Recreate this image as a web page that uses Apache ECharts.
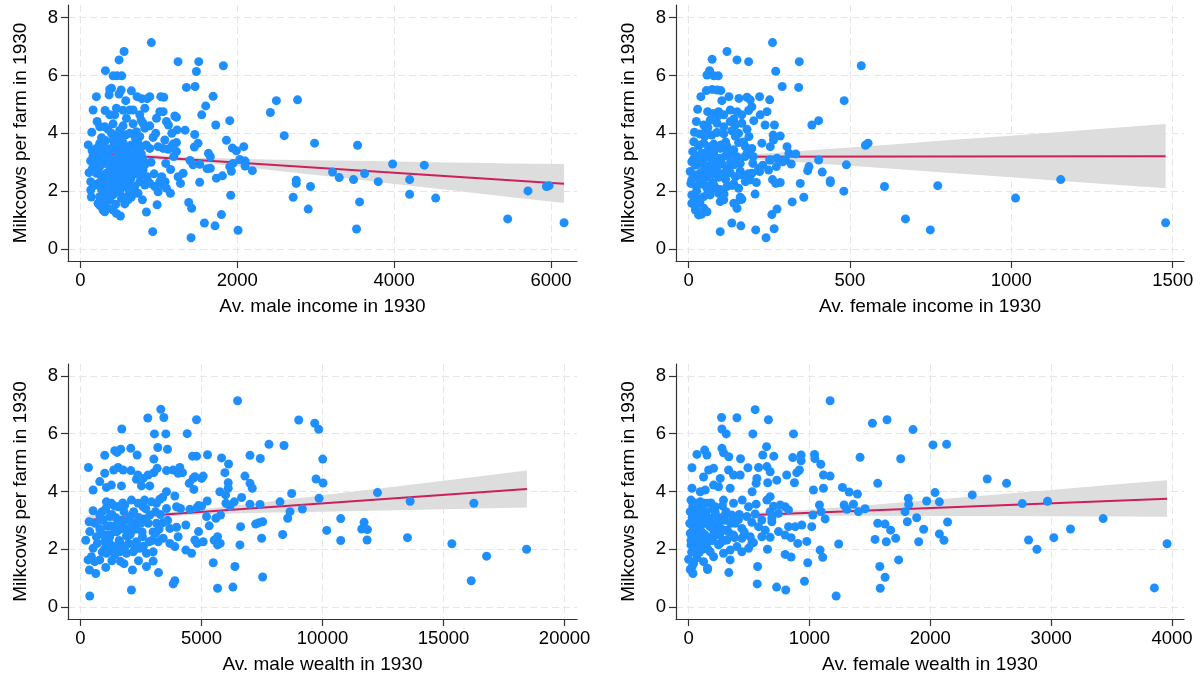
<!DOCTYPE html>
<html>
<head>
<meta charset="utf-8">
<script src="https://cdn.jsdelivr.net/npm/echarts@6/dist/echarts.min.js"></script>
<style>
html,body{margin:0;padding:0;background:#fff;}
#chart{width:1201px;height:681px;}
</style>
</head>
<body>
<div id="chart"></div>
<script>
// ---------------- DATA ----------------
const yTicks = [0, 2, 4, 6, 8];
const yTitle = 'Milkcows per farm in 1930';

const maleIncomeTicks = [0, 2000, 4000, 6000];
const femaleIncomeTicks = [0, 500, 1000, 1500];
const maleWealthTicks = [0, 5000, 10000, 15000, 20000];
const femaleWealthTicks = [0, 1000, 2000, 3000, 4000];

const xTitles = ['Av. male income in 1930', 'Av. female income in 1930', 'Av. male wealth in 1930', 'Av. female wealth in 1930'];

// scatter points [x, milkcows]
const maleIncome = [
[905,7.14],[557,6.83],[493,6.54],[319,6.17],[417,5.99],[468,5.99],[527,5.99],[1245,6.48],[1509,6.48],[1479,6.14],[1823,6.34],[1352,5.59],[1462,5.62],[1692,5.28],[1598,4.95],[1547,4.64],[1726,4.29],[1904,4.44],[1335,4.11],[1458,3.96],[1862,3.76],[1500,3.66],[1453,3.53],[1938,3.49],[1989,3.40],[2083,3.54],[1632,3.31],[1657,3.19],[1398,3.06],[1436,2.91],[1521,2.93],[1615,2.78],[1657,2.79],[1946,2.96],[2032,3.10],[2100,3.04],[2100,2.87],[1904,2.85],[1925,2.69],[2193,2.71],[1734,2.45],[1811,2.53],[1521,2.31],[1917,1.86],[1381,1.61],[1419,1.41],[1798,1.19],[1581,0.90],[1717,0.80],[2010,0.65],[1411,0.39],[922,0.60],[842,1.28],[978,1.53],[510,1.14],
[2422,4.72],[2499,5.13],[2769,5.16],[2599,3.92],[2986,3.66],[3534,3.59],[2713,1.79],[2752,2.38],[2752,2.27],[2934,2.16],[2905,1.38],[3215,2.66],[3300,2.47],[3483,2.40],[3624,2.61],[3560,1.63],[3521,0.69],[3798,2.33],[3981,2.94],[4198,2.40],[4198,1.89],[4385,2.90],[4530,1.76],[5448,1.04],[5707,2.01],[5942,2.16],[5976,2.19],[6167,0.91],
[204,5.27],[374,5.52],[396,5.56],[366,5.33],[519,5.50],[493,5.36],[650,5.47],[723,5.27],[783,5.20],[851,5.20],[885,5.27],[1025,5.27],[1063,5.25],[578,5.13],[162,4.81],[315,4.79],[459,4.87],[544,4.80],[629,4.81],[672,4.81],[821,4.87],[374,4.64],[438,4.64],[587,4.52],[757,4.64],[774,4.46],[970,4.52],[1012,4.75],[1055,4.75],[1204,4.60],[1225,4.56],[1097,4.41],[1123,4.29],[213,4.41],[247,4.23],[145,4.04],[310,4.23],[417,4.33],[544,4.26],[672,4.33],[799,4.35],[885,4.26],[629,4.00],[714,4.06],[821,4.18],[757,3.89],[927,3.86],[1165,4.00],[1233,4.12],[1076,3.77],[1225,3.68],[1182,3.63],[396,4.00],[451,3.91],[417,3.77],[247,3.66],[281,3.54],[332,3.48],[204,3.48],[459,3.66],[544,3.68],[587,3.54],[650,3.60],[735,3.66],[778,3.54],[885,3.48],[991,3.54],[1055,3.48],[1118,3.45],[1161,3.54],[1225,3.37],[162,3.22],[225,3.14],[289,3.29],[353,3.19],[417,3.08],[480,3.19],[544,3.29],[608,3.14],[693,3.22],[778,3.29],[183,2.96],[247,2.85],[310,2.96],[374,2.85],[438,2.91],[502,2.79],[565,2.96],[629,2.85],[693,2.91],[757,2.85],[821,2.91],[1088,2.96],[110,2.64],[153,2.79],[204,2.62],[268,2.50],[332,2.62],[396,2.50],[459,2.62],[523,2.50],[587,2.62],[650,2.50],[714,2.60],[799,2.73],[851,2.50],[1037,2.50],[1080,2.33],[1055,2.21],[1246,2.50],[1310,2.62],[1276,2.27],[132,2.33],[132,2.04],[225,2.27],[289,2.16],[353,2.27],[417,2.16],[480,2.27],[544,2.16],[608,2.27],[693,2.16],[757,2.33],[821,2.21],[885,2.27],[948,2.16],[991,1.98],[1012,2.33],[1097,2.10],[1148,1.93],[247,1.81],[332,1.93],[417,1.87],[502,1.98],[587,1.81],[672,1.98],[735,1.93],[791,1.70],[225,1.58],[310,1.64],[374,1.70],[523,1.75],[608,1.70],[565,1.56],[289,1.35],[353,1.41],[417,1.35],[459,1.23],[310,1.29],
[100,3.60],[130,3.05],[270,3.85],[350,4.15],[500,4.10],[580,3.95],[350,3.38],[450,3.40],[520,3.45],[700,3.45],[270,3.00],[400,2.70],[560,2.70],[300,2.40],[480,2.40],[640,2.40],[380,2.00],[440,1.95],[270,2.05],
[150,3.40],[190,3.10],[230,2.75],[260,3.35],[290,2.30],[320,3.75],[340,2.00],[360,3.05],[390,2.35],[420,3.55],[440,2.55],[470,3.00],[490,3.85],[510,2.20],[540,3.05],[570,2.35],[600,3.35],[620,2.05],[660,3.00],[680,2.70],[700,3.85],[740,3.10],[760,2.55],[800,3.10],[840,3.60],[860,2.35],[900,3.00],[940,2.60],[960,4.00],[1150,2.75],[1190,3.20],[140,1.80],[180,2.20],[250,1.50],[450,1.55],[650,1.80]
];

const femaleIncome = [
[260,7.14],[119,6.83],[73,6.56],[150,6.54],[186,6.48],[343,6.48],[270,6.15],[57,6.02],[65,6.17],[78,5.99],[92,5.99],[290,5.62],[341,5.59],[535,6.34],[482,5.13],[220,5.27],[251,5.16],[38,5.27],[55,5.48],[73,5.52],[88,5.50],[100,5.48],[125,5.27],[156,5.21],[181,5.25],[191,5.16],[103,5.13],[28,4.83],[196,4.92],[186,4.79],[243,4.75],
[59,4.75],[78,4.69],[93,4.75],[109,4.64],[129,4.81],[150,4.75],[165,4.64],[222,4.64],[24,4.41],[47,4.29],[67,4.46],[88,4.35],[109,4.23],[129,4.41],[145,4.29],[165,4.35],[202,4.44],[237,4.29],[266,4.29],[382,4.29],[403,4.44],
[18,4.04],[34,3.98],[52,4.06],[72,3.94],[88,4.03],[109,3.98],[134,4.09],[155,4.00],[181,4.14],[187,3.89],[262,3.94],[284,3.91],[263,3.77],[227,3.66],[253,3.54],[305,3.54],[548,3.59],[556,3.66],
[16,3.71],[31,3.56],[47,3.66],[62,3.54],[78,3.63],[98,3.48],[119,3.56],[140,3.43],[155,3.68],[176,3.54],[196,3.48],[311,3.31],[332,3.29],[300,3.08],
[13,3.37],[26,3.22],[41,3.31],[57,3.19],[78,3.29],[98,3.14],[114,3.22],[134,3.33],[150,3.19],[181,3.31],[253,3.08],[274,3.14],[292,3.02],[318,2.94],[403,3.08],[489,2.91],
[10,3.02],[26,2.91],[41,2.99],[57,2.85],[72,2.96],[88,2.85],[103,2.94],[119,2.79],[140,2.91],[160,2.96],[199,2.96],[220,2.68],[251,3.08],[272,2.85],[369,2.71],[373,2.85],[414,2.66],[439,2.36],[439,2.30],
[5,2.68],[21,2.56],[36,2.62],[57,2.50],[72,2.60],[93,2.48],[109,2.56],[129,2.64],[145,2.50],[165,2.56],[181,2.45],[196,2.62],[217,2.79],[248,2.73],[481,2.00],
[270,2.27],[284,2.30],[346,2.27],[357,1.79],[321,1.63],
[7,2.27],[24,2.16],[41,2.25],[57,2.10],[78,2.21],[98,2.06],[119,2.16],[140,2.25],[155,2.10],[176,2.33],[191,2.39],[206,1.90],
[10,1.87],[26,1.75],[47,1.81],[67,1.87],[93,1.93],[109,1.70],[140,1.58],[160,1.79],[165,1.72],
[10,1.58],[21,1.35],[31,1.18],[47,1.41],[57,1.29],[98,1.64],[150,1.41],[160,1.70],[258,1.19],[274,1.38],
[98,0.60],[134,0.90],[162,0.80],[208,0.66],[240,0.39],[265,0.70],
[607,2.16],[772,2.19],[672,1.04],[749,0.66],[1013,1.76],[1153,2.40],[1478,0.91],
[30,3.0],[45,2.7],[60,3.4],[75,2.3],[90,3.1],[105,2.6],[120,3.4],[35,2.4],[50,3.9],[65,2.0],[20,2.9],[40,3.2],[55,2.2],[85,2.8],[100,3.6],[115,2.4],[130,3.0],[145,3.9],[160,2.7],[175,3.2],
[10,2.4],[15,3.1],[25,2.0],[30,3.6],[35,1.6],[45,3.0],[50,2.5],[60,1.9],[65,3.2],[70,2.7],[80,3.5],[85,2.1],[95,2.6],[100,3.0],[110,1.9],[115,3.7],[125,2.7],[135,2.2],[150,3.0],[170,3.7],[185,2.6],[200,3.2],[210,2.3],[230,2.9],[260,2.4],[20,1.5],[40,1.2],[140,4.5],[90,4.6],[60,4.2]
];

const maleWealth = [
[6493,7.14],[3322,6.84],[3446,6.56],[2783,6.54],[4796,6.48],[1708,6.16],[3059,5.99],[3528,5.99],[4410,6.00],[3197,5.52],[3597,5.46],[2080,5.49],[1666,5.46],[1515,5.35],[1418,5.41],[2342,5.26],[1005,5.25],[3032,5.12],[4631,5.22],[4796,5.22],[5251,5.27],[5830,5.16],[6120,4.95],[5968,4.65],[6106,4.30],[7004,5.25],[7431,5.14],[7789,5.63],[8410,5.59],[9017,6.47],[9679,6.36],[9844,6.15],[10010,5.12],[9734,4.43],[10023,4.29],[9858,3.76],
[330,4.83],[523,4.05],[1005,4.63],[1377,4.74],[1556,4.83],[1763,4.74],[2080,4.72],[2370,4.57],[2591,4.45],[2797,4.57],[3032,4.65],[3170,4.80],[3556,4.72],[3832,4.74],[4038,4.63],[4107,4.83],[4217,4.65],[4493,4.28],[4658,4.45],[4727,4.51],[5003,4.45],[5072,4.53],[4686,4.07],
[798,4.34],[1074,4.14],[1280,4.22],[1694,4.19],[2314,4.42],[2522,4.19],[2866,4.19],[3556,3.99],[3901,3.84],[3280,3.73],[5238,3.67],[4880,3.51],[5761,3.99],[6106,4.11],[5996,3.88],[6355,3.64],[6658,3.79],[6796,4.53],[7004,4.28],[7100,4.11],
[7004,3.56],[7418,3.55],[8245,3.64],[8727,3.93],[8658,3.30],[9168,3.39],[8562,3.07],
[523,3.33],[358,2.95],[798,3.18],[1074,3.64],[1280,3.59],[1556,3.47],[1832,3.53],[2108,3.70],[2384,3.59],[2591,3.47],[2935,3.64],[3142,3.59],
[3556,3.41],[3970,3.47],[4135,3.41],[4521,3.38],[4824,3.45],[5003,3.49],[5210,3.13],[5596,3.07],[5789,3.18],[6010,3.59],[6175,3.49],
[6617,2.78],[7237,2.87],[7375,2.92],[7527,2.95],[7486,2.38],[8355,2.51],
[936,3.01],[1212,3.13],[1487,2.84],[1763,2.95],[2039,3.13],[2315,2.90],[2660,3.01],[2866,3.18],[3142,2.90],[3418,2.92],[3694,2.72],
[3970,2.76],[4038,2.43],[4355,2.84],[4880,2.61],[5321,2.81],[5527,2.31],[5665,2.43],[6589,2.15],
[220,2.31],[385,2.61],[523,2.03],[661,2.43],[867,2.55],[1005,2.26],[1212,2.43],[1418,2.61],[1625,2.26],[1901,2.46],[2108,2.61],[2315,2.26],[2563,2.43],[2839,2.26],[3115,2.55],[3211,2.26],[3418,2.38],[3694,2.20],
[3901,2.09],[4355,1.97],[4590,1.86],[4727,2.32],[4824,2.20],[5072,2.26],[5665,2.15],[5776,2.20],
[316,1.63],[454,1.74],[592,1.57],[798,1.63],[1074,1.86],[1212,1.97],[1418,1.80],[1625,1.91],[1901,1.86],[2177,1.91],[2453,2.03],[2729,1.86],[3004,1.91],
[372,1.28],[634,1.16],[1047,1.37],[1652,1.58],[2149,1.28],[2729,1.40],[3225,1.19],[3004,1.59],
[385,0.38],[2108,0.59],[3901,0.91],[3832,0.80],
[5486,1.53],[6382,1.40],[5665,0.65],[6299,0.69],[7527,1.04],
[12270,3.96],[13621,3.66],[16254,3.59],[10753,3.06],[10174,2.65],[11718,2.93],[11622,2.70],[11856,2.68],[11842,2.32],[10753,2.30],[13510,2.40],[15344,2.19],[16778,1.76],[18431,2.00],[16143,0.91],
[1100,2.8],[1300,3.2],[1500,2.6],[1700,3.0],[1900,2.7],[2200,3.3],[2500,2.9],[2700,3.4],[1200,2.2],[1400,3.5],[1600,2.3],[1800,3.3],[2000,2.2],[2300,2.7],[800,2.7],[900,3.3],[1000,2.0],[2600,2.1],[3000,2.6],[3300,3.2],
[600,2.9],[700,2.2],[850,3.0],[950,2.5],[1050,3.4],[1150,2.5],[1250,2.8],[1350,2.1],[1450,3.1],[1550,2.0],[1650,2.7],[1750,3.6],[1850,2.1],[1950,3.0],[2050,2.5],[2150,2.9],[2250,2.0],[2400,3.1],[2550,2.6],[2650,3.7],[2800,2.9],[2950,2.3],[3100,3.3],[3250,2.7],[3400,3.8],[1300,1.6],[1800,1.5],[900,1.9],[2400,1.6],[3600,3.0]
];

const femaleWealth = [
[1171,7.14],[551,6.83],[273,6.56],[400,6.55],[661,6.48],[276,6.16],[312,5.99],[532,5.99],[868,5.99],[1521,6.36],[1642,6.48],[1857,6.14],[2022,5.61],[2135,5.63],
[69,5.28],[133,5.43],[152,5.26],[276,5.49],[289,5.34],[333,5.20],[430,5.13],[645,5.55],[614,5.26],[705,5.22],[862,5.17],[931,5.26],[931,5.06],[1042,5.28],[1045,5.14],[1094,4.94],[1116,4.57],[1171,4.53],[1419,5.18],[1755,5.13],
[28,4.82],[124,4.50],[166,4.74],[207,4.80],[262,4.45],[331,4.74],[372,4.57],[427,4.57],[491,4.82],[565,4.45],[579,4.83],[648,4.86],[675,4.68],[730,4.39],[812,4.57],[895,4.65],[917,4.74],
[1565,4.28],[1273,4.14],[1328,3.98],[1397,3.91],
[28,4.11],[97,3.99],[138,4.05],[207,4.22],[248,4.16],[344,4.11],[526,3.99],[559,4.28],[655,4.30],[876,4.30],[1033,4.05],[1116,4.11],
[1970,3.67],[2039,3.96],[2075,3.64],[1818,3.76],[1821,3.55],
[20,3.70],[97,3.64],[152,3.59],[220,3.47],[289,3.70],[372,3.59],[444,3.70],[496,3.47],[559,3.56],[648,3.70],[675,3.82],[703,3.49],[758,3.53],[799,3.47],[827,3.36],
[1028,3.18],[1083,3.53],[1097,3.30],[1130,3.05],[1287,3.53],[1309,3.38],[1364,3.56],[1405,3.30],[1460,3.40],
[1791,3.30],[1810,2.95],[1887,3.09],
[14,3.30],[69,3.13],[110,3.24],[166,3.07],[220,3.22],[289,3.13],[358,3.18],[413,3.03],[482,3.13],[551,3.22],[606,3.01],[675,3.30],[689,3.07],[744,3.24],
[28,2.84],[83,2.72],[124,2.90],[179,2.78],[248,2.84],[317,2.66],[386,2.90],[441,2.72],[523,2.93],[579,2.78],[634,2.66],[689,2.95],[827,2.78],[882,2.78],[937,2.84],
[1019,2.78],[848,2.40],[903,2.20],[978,2.27],[1088,1.97],[1110,1.72],[1242,2.18],
[1565,2.90],[1626,2.87],[1672,2.66],[1714,2.38],[1543,2.34],[1636,2.26],[1738,1.63],
[1945,2.69],[1904,2.26],[2075,2.53],[2113,2.31],
[14,2.55],[55,2.38],[97,2.49],[152,2.32],[207,2.43],[262,2.55],[317,2.32],[372,2.49],[441,2.38],[510,2.43],[537,2.23],[606,2.43],[675,2.41],[744,2.61],[799,2.49],
[20,2.15],[69,2.00],[124,2.09],[179,1.91],[248,2.15],[289,1.86],[344,1.97],[400,2.09],[441,1.91],[496,2.03],[523,2.20],[653,2.00],[799,1.82],[848,1.73],
[0,1.65],[41,1.51],[124,1.57],[157,1.34],[207,1.74],[344,1.63],
[14,1.30],[36,1.16],[157,1.30],[333,1.19],[986,1.53],[571,1.40],
[568,0.80],[728,0.69],[804,0.59],[959,0.89],[1221,0.38],[1582,1.40],[1626,1.03],[1586,0.65],
[2471,4.43],[2631,4.28],[2347,3.88],[2761,3.58],[2970,3.66],[2143,2.94],[2813,2.32],[2882,2.00],[3022,2.40],[3160,2.70],[3430,3.06],[3959,2.19],[3854,0.66],
[50,2.8],[80,3.3],[110,2.6],[140,3.0],[170,2.4],[200,3.4],[230,2.8],[260,2.2],[300,3.0],[330,2.6],[60,2.3],[90,1.9],[120,3.6],[150,2.2],[190,2.9],[220,3.3],[250,2.5],[35,3.5],[40,2.0],[280,3.5],
[10,2.9],[20,2.3],[25,1.9],[30,3.1],[45,2.6],[55,3.6],[65,2.1],[75,2.7],[85,3.0],[100,2.3],[105,3.4],[115,2.0],[125,2.9],[135,2.5],[145,3.3],[160,2.0],[175,2.8],[185,3.6],[195,2.3],[210,2.6],[240,3.1],[270,2.7],[290,2.3],[310,3.3],[350,2.9],[380,2.4],[420,3.2],[460,2.6],[30,1.4],[70,1.7]
];

// fitted lines [x, fitted]
const maleIncomeFit = [[110, 3.32], [6166, 2.26]];
const femaleIncomeFit = [[7, 3.19], [1478, 3.21]];
const maleWealthFit = [[248, 3.01], [18445, 4.08]];
const femaleWealthFit = [[14, 3.10], [3959, 3.75]];

// confidence bands [x, lower, upper]
const maleIncomeBand = [[110,3.16,3.48],[500,3.14,3.37],[1000,3.09,3.24],[1500,2.99,3.16],[2000,2.86,3.12],[2500,2.71,3.09],[3000,2.56,3.07],[3500,2.41,3.05],[4000,2.25,3.03],[4500,2.10,3.00],[5000,1.95,2.98],[5500,1.79,2.96],[6166,1.59,2.94]];
const femaleIncomeBand = [[7,3.08,3.30],[120,3.14,3.25],[250,3.07,3.31],[400,2.96,3.43],[600,2.80,3.59],[800,2.64,3.76],[1000,2.48,3.92],[1200,2.32,4.09],[1478,2.10,4.32]];
const maleWealthBand = [[248,2.85,3.17],[2000,3.02,3.21],[3605,3.14,3.28],[5000,3.20,3.38],[7500,3.26,3.62],[10000,3.30,3.87],[12500,3.34,4.12],[15000,3.38,4.37],[18445,3.44,4.72]];
const femaleWealthBand = [[14,2.98,3.22],[558,3.13,3.26],[1000,3.16,3.37],[1500,3.16,3.53],[2000,3.15,3.70],[2500,3.15,3.88],[3000,3.14,4.05],[3500,3.13,4.23],[3959,3.12,4.39]];

// ---------------- LAYOUT / STYLE ----------------
const FONT = "'Liberation Sans', Arial, Helvetica, sans-serif";
const grids = [
  {left: 68, top: 5, width: 509, height: 256},
  {left: 676, top: 5, width: 508, height: 256},
  {left: 68, top: 364, width: 509, height: 255},
  {left: 676, top: 364, width: 508, height: 255}
];
const xRanges = [[-158, 6332], [-39, 1535], [-513, 20513], [-104, 4099]];
const yRanges = [[-0.415, 8.44], [-0.415, 8.44], [-0.415, 8.41], [-0.415, 8.41]];
const xTickSets = [maleIncomeTicks, femaleIncomeTicks, maleWealthTicks, femaleWealthTicks];
const pointSets = [maleIncome, femaleIncome, maleWealth, femaleWealth];
const fitSets = [maleIncomeFit, femaleIncomeFit, maleWealthFit, femaleWealthFit];
const bandSets = [maleIncomeBand, femaleIncomeBand, maleWealthBand, femaleWealthBand];

const axisColor = '#333333';
const splitStyle = {show: true, lineStyle: {color: '#e6e6e6', width: 1, type: [7, 4]}};

const xAxes = [], yAxes = [], series = [];
for (let i = 0; i < 4; i++) {
  xAxes.push({
    type: 'value', gridIndex: i, min: xRanges[i][0], max: xRanges[i][1],
    name: xTitles[i], nameLocation: 'middle', nameGap: 36,
    nameTextStyle: {fontFamily: FONT, fontSize: 19, color: '#000'},
    axisLine: {show: true, onZero: false, lineStyle: {color: axisColor, width: 1.2}},
    axisTick: {show: true, inside: false, length: 7, customValues: xTickSets[i], lineStyle: {color: axisColor, width: 1.2}},
    axisLabel: {show: true, customValues: xTickSets[i], margin: 10, fontFamily: FONT, fontSize: 18.5, color: '#000', formatter: v => String(v)},
    splitLine: splitStyle
  });
  yAxes.push({
    type: 'value', gridIndex: i, min: yRanges[i][0], max: yRanges[i][1],
    name: yTitle, nameLocation: 'middle', nameGap: 38, nameRotate: 90,
    nameTextStyle: {fontFamily: FONT, fontSize: 19, color: '#000'},
    axisLine: {show: true, onZero: false, lineStyle: {color: axisColor, width: 1.2}},
    axisTick: {show: true, inside: false, length: 7, customValues: yTicks, lineStyle: {color: axisColor, width: 1.2}},
    axisLabel: {show: true, customValues: yTicks, margin: 10, fontFamily: FONT, fontSize: 18.5, color: '#000', formatter: v => String(v)},
    splitLine: splitStyle
  });
  const band = bandSets[i];
  series.push({
    type: 'custom', xAxisIndex: i, yAxisIndex: i, z: 1, silent: true,
    data: band,
    encode: {x: 0, y: [1, 2]},
    renderItem: function (params, api) {
      if (params.dataIndex !== 0) return null;
      const top = band.map(r => api.coord([r[0], r[2]]));
      const bot = band.slice().reverse().map(r => api.coord([r[0], r[1]]));
      return {type: 'polygon', shape: {points: top.concat(bot)}, style: {fill: '#dddddd', stroke: null}};
    }
  });
  series.push({
    type: 'line', xAxisIndex: i, yAxisIndex: i, z: 2, silent: true,
    data: fitSets[i], showSymbol: false, symbol: 'none',
    lineStyle: {color: '#cc1f5c', width: 2}
  });
  series.push({
    type: 'scatter', xAxisIndex: i, yAxisIndex: i, z: 3, silent: true,
    data: pointSets[i], symbol: 'circle', symbolSize: 9,
    itemStyle: {color: '#1e8fff', opacity: 1},
    clip: false
  });
}

const chart = echarts.init(document.getElementById('chart'), null, {renderer: 'canvas'});
chart.setOption({
  animation: false,
  backgroundColor: '#ffffff',
  grid: grids,
  xAxis: xAxes,
  yAxis: yAxes,
  series: series
});
</script>
</body>
</html>
